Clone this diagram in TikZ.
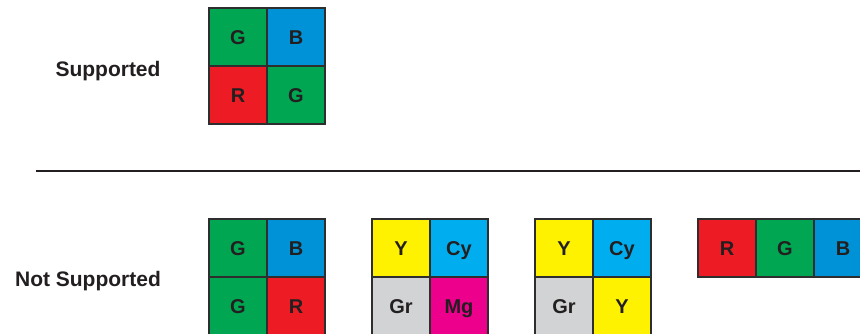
\documentclass[tikz,border=0pt]{standalone}
\usepackage{fontspec}
\setmainfont{Liberation Sans}
\usetikzlibrary{positioning}
\definecolor{Ink}{HTML}{231F20}
\definecolor{Edge}{HTML}{2E2E2E}
\definecolor{PixGreen}{HTML}{00A651}
\definecolor{PixBlue}{HTML}{0092D6}
\definecolor{PixRed}{HTML}{ED1C24}
\definecolor{PixYellow}{HTML}{FFF200}
\definecolor{PixCyan}{HTML}{00AEEF}
\definecolor{PixGray}{HTML}{D1D3D4}
\definecolor{PixMagenta}{HTML}{EC008C}

\begin{document}
\begin{tikzpicture}[
    x=1pt,y=-1pt,
    cell/.style={draw=Edge,line width=1.2pt,minimum size=58pt,inner sep=0pt,
      text height=14.3pt,text depth=0pt,text=Ink,
      font=\fontsize{20}{20}\selectfont\bfseries},
    caption/.style={anchor=base,text=Ink,font=\fontsize{21}{25}\selectfont\bfseries}
]
\useasboundingbox (0,0) rectangle (860,333);
% supported
\node[cell,fill=PixGreen] (s11) at (238,37) {G};
\node[cell,fill=PixBlue] (s12) at (296,37) {B};
\node[cell,fill=PixRed] (s21) at (238,95) {R};
\node[cell,fill=PixGreen] (s22) at (296,95) {G};
\node[caption] (sup) at (108,76) {Supported};
% divider
\coordinate (ruleL) at (36,171);
\coordinate (ruleR) at (860,171);
\draw[Ink,line width=2pt] (ruleL) -- (ruleR);
% not supported
\node[cell,fill=PixGreen] (a11) at (238,248) {G};
\node[cell,fill=PixBlue] (a12) at (296,248) {B};
\node[cell,fill=PixGreen] (a21) at (238,306) {G};
\node[cell,fill=PixRed] (a22) at (296,306) {R};
\node[cell,fill=PixYellow] (b11) at (401,248) {Y};
\node[cell,fill=PixCyan] (b12) at (459,248) {Cy};
\node[cell,fill=PixGray] (b21) at (401,306) {Gr};
\node[cell,fill=PixMagenta] (b22) at (459,306) {Mg};
\node[cell,fill=PixYellow] (c11) at (564,248) {Y};
\node[cell,fill=PixCyan] (c12) at (622,248) {Cy};
\node[cell,fill=PixGray] (c21) at (564,306) {Gr};
\node[cell,fill=PixYellow] (c22) at (622,306) {Y};
\node[cell,fill=PixRed] (d1) at (727,248) {R};
\node[cell,fill=PixGreen] (d2) at (785,248) {G};
\node[cell,fill=PixBlue] (d3) at (843,248) {B};
\node[caption] (nsup) at (88,286) {Not Supported};
\end{tikzpicture}
\end{document}
